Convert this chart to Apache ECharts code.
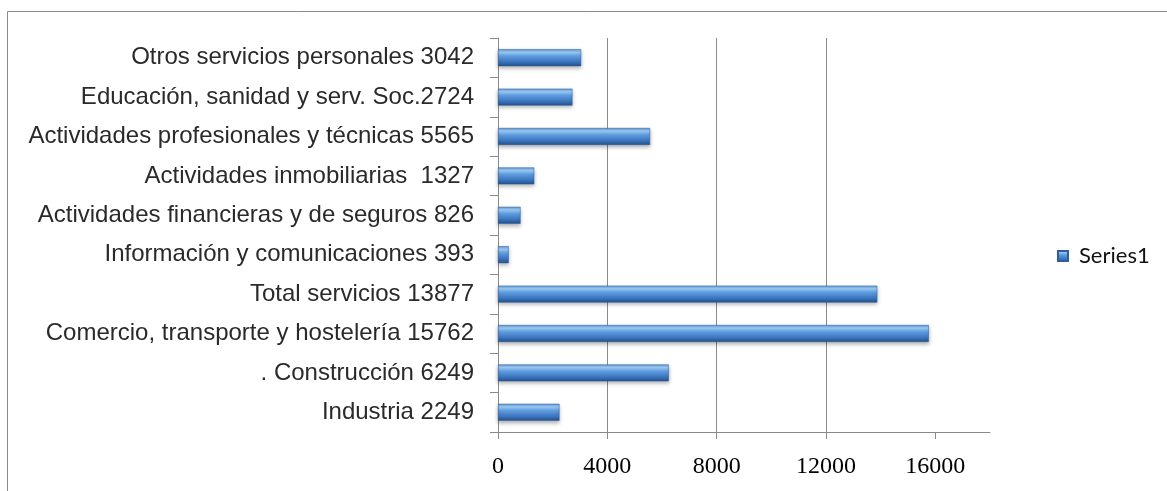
<!DOCTYPE html>
<html>
<head>
<meta charset="utf-8">
<script src="https://cdn.jsdelivr.net/npm/echarts@6/dist/echarts.min.js"></script>
<style>
  html, body { margin: 0; padding: 0; background: #fff; }
  #chart { width: 1167px; height: 491px; }
</style>
</head>
<body>
<div id="chart"></div>
<script>
// Sectors, listed from the bottom of the chart upwards
const categories = [
  'Industria 2249',
  '. Construcción 6249',
  'Comercio, transporte y hostelería 15762',
  'Total servicios 13877',
  'Información y comunicaciones 393',
  'Actividades financieras y de seguros 826',
  'Actividades inmobiliarias  1327',
  'Actividades profesionales y técnicas 5565',
  'Educación, sanidad y serv. Soc.2724',
  'Otros servicios personales 3042'
];
const values = [2249, 6249, 15762, 13877, 393, 826, 1327, 5565, 2724, 3042];
const xTicks = [0, 4000, 8000, 12000, 16000];
const seriesName = 'Series1';

const chart = echarts.init(document.getElementById('chart'), null, { renderer: 'canvas' });

// Cylinder-like shading across the bar thickness
const barGradient = new echarts.graphic.LinearGradient(0, 0, 0, 1, [
  { offset: 0, color: '#5d98d8' },
  { offset: 0.18, color: '#9ccbf5' },
  { offset: 0.4, color: '#5f9de0' },
  { offset: 0.75, color: '#3a74bd' },
  { offset: 1, color: '#25508a' }
]);

chart.setOption({
  backgroundColor: '#ffffff',
  animation: false,
  graphic: [{
    type: 'rect',
    shape: { x: 7.5, y: 11.5, width: 1200, height: 520 },
    style: { fill: 'none', stroke: '#8a8a8a', lineWidth: 1 },
    silent: true
  }],
  legend: {
    data: [seriesName],
    left: 1052,
    top: 240,
    icon: 'rect',
    itemWidth: 10,
    itemHeight: 10,
    textStyle: { fontFamily: 'Lato', fontSize: 22, color: '#111', padding: [0, 0, 0, 6] }
  },
  grid: { left: 498, right: 177, top: 38, bottom: 59, containLabel: false },
  xAxis: {
    type: 'value',
    min: 0,
    max: 18000,
    interval: 4000,
    axisLine: { show: true, lineStyle: { color: '#8a8a8a', width: 1 } },
    axisTick: { show: true, length: 7, customValues: xTicks, lineStyle: { color: '#8a8a8a' } },
    axisLabel: {
      customValues: xTicks,
      formatter: v => String(v),
      margin: 23,
      fontFamily: 'Liberation Serif',
      fontSize: 24,
      color: '#000'
    },
    splitLine: { show: true, showMinLine: false, showMaxLine: false, lineStyle: { color: '#8a8a8a', width: 1 } }
  },
  yAxis: {
    type: 'category',
    data: categories,
    axisLine: { show: true, lineStyle: { color: '#8a8a8a', width: 1 } },
    axisTick: { show: true, length: 8, lineStyle: { color: '#8a8a8a' } },
    axisLabel: {
      margin: 24,
      fontFamily: 'Liberation Sans',
      fontSize: 24,
      color: '#2a2a2a'
    }
  },
  series: [{
    name: seriesName,
    type: 'bar',
    data: values,
    barWidth: '43%',
    itemStyle: {
      color: barGradient,
      borderColor: '#2f5f9c',
      borderWidth: 0.5,
      shadowColor: 'rgba(0,0,0,0.3)',
      shadowBlur: 4,
      shadowOffsetY: 2
    }
  }]
});
</script>
</body>
</html>
